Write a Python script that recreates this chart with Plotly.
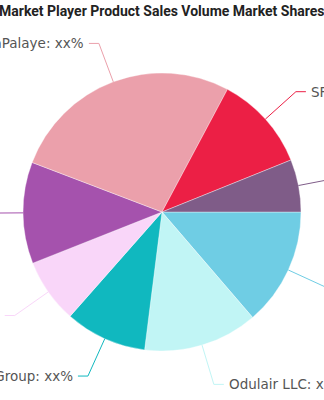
import math
import plotly.graph_objects as go

# ---- data (counter-clockwise from 3 o'clock) ----
companies = ["Farber Specialty Vehicles", "SFR", "LaPalaye", "Matthews Specialty Vehicles",
             "Mobile Specialty Vehicles", "Kinetic Group", "Odulair LLC", "Summit Bodyworks"]
shares = [6.1, 11.1, 27.0, 11.8, 7.5, 9.5, 13.3, 13.7]
label_text = "xx%"
colors = ["#7f5c88", "#ec1f45", "#eba0ab", "#a552ad", "#f9d6f9", "#10b8bf", "#c1f5f5", "#6fcde4"]
title = "Market Player Product Sales Volume Market Shares"

W, H = 324, 400
CX, CY, R = 162, 212, 139
LEN1, LEN2, GAP = 41, 10, 3


def px(x):
    return x / W


def py(y):
    return 1 - y / H


fig = go.Figure()
# drawn clockwise from 3 o'clock, i.e. the list order reversed
fig.add_trace(go.Pie(
    labels=companies[::-1], values=shares[::-1], sort=False,
    direction="clockwise", rotation=90,
    marker=dict(colors=colors[::-1], line=dict(color="rgba(255,255,255,0.6)", width=0.6)),
    textinfo="none", hoverinfo="label+percent", showlegend=False,
    domain=dict(x=[px(CX - R), px(CX + R)], y=[py(CY + R), py(CY - R)]),
))

shapes, annotations = [], []
total = sum(shares)
cum = 0.0
for name, v, c in zip(companies, shares, colors):
    mid = (cum + v / 2) / total * 2 * math.pi
    cum += v
    ca, sa = math.cos(mid), math.sin(mid)
    x0, y0 = CX + R * ca, CY - R * sa
    x1, y1 = CX + (R + LEN1) * ca, CY - (R + LEN1) * sa
    right = ca >= 0
    x2 = x1 + (LEN2 if right else -LEN2)
    path = f"M {px(x0)} {py(y0)} L {px(x1)} {py(y1)} L {px(x2)} {py(y1)}"
    shapes.append(dict(type="path", xref="paper", yref="paper", path=path,
                       line=dict(color=c, width=1)))
    annotations.append(dict(
        xref="paper", yref="paper", x=px(x2 + (GAP if right else -GAP)), y=py(y1),
        text=f"{name}: {label_text}", showarrow=False,
        xanchor="left" if right else "right", yanchor="middle",
        font=dict(family="DejaVu Sans", size=13.5, color="#555555"),
    ))

annotations.append(dict(
    xref="paper", yref="paper", x=0.5, y=py(11),
    text=f"<b>{title}</b>",
    showarrow=False, xanchor="center", yanchor="middle",
    font=dict(family="Roboto", size=14, color="#222222"),
))

fig.update_layout(
    width=W, height=H, margin=dict(l=0, r=0, t=0, b=0),
    paper_bgcolor="white", plot_bgcolor="white",
    shapes=shapes, annotations=annotations,
)
fig.write_html("out.html")
